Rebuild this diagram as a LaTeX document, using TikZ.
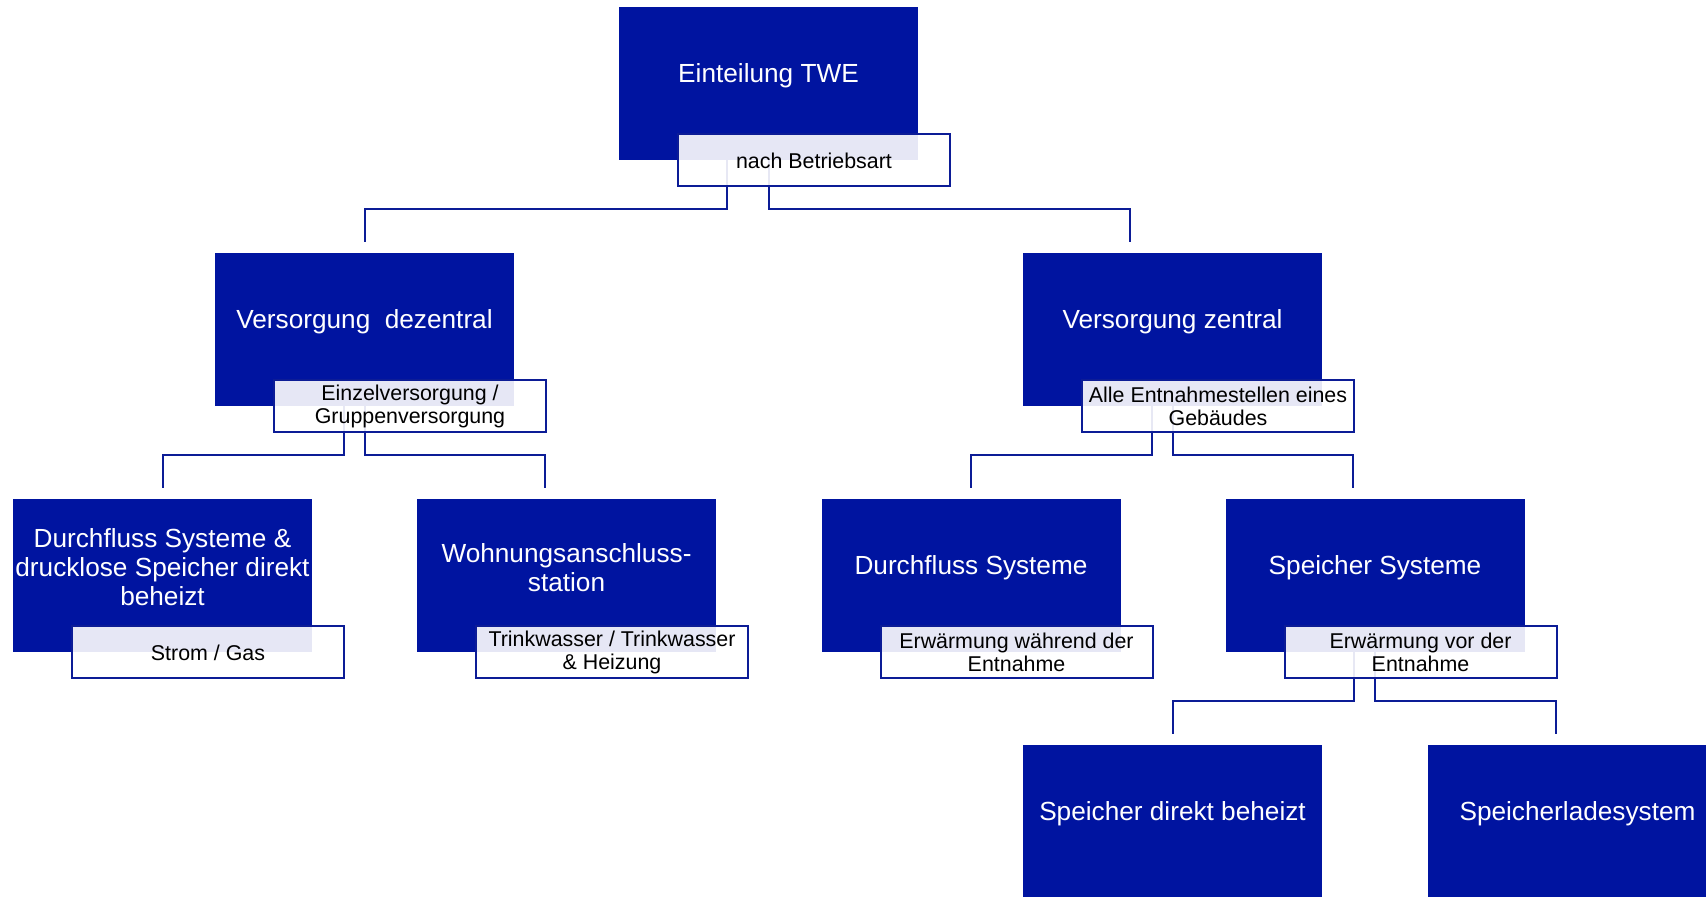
\documentclass[tikz,border=0pt]{standalone}
\usepackage{fontspec}
\setmainfont{Liberation Sans}
\usepackage{tikz}
\usetikzlibrary{positioning,calc}
\usepackage{xcolor}
\definecolor{twedark}{RGB}{0,20,160}
\definecolor{tweline}{RGB}{12,28,150}

\tikzset{
    mainbox/.style={rectangle, fill=twedark, minimum width=149.5pt, minimum height=76.5pt, inner sep=0pt},
    maintext/.style={text=white, font=\fontsize{13.1}{14.5}\selectfont, align=center, inner sep=0pt},
    subbox/.style={rectangle, draw=tweline, line width=1pt, fill=white, fill opacity=0.9, text opacity=1,
        minimum width=136pt, minimum height=26pt, inner sep=0pt, align=center,
        font=\fontsize{10.7}{11.5}\selectfont},
    conn/.style={draw=tweline, line width=1pt}
}

\begin{document}
\begin{tikzpicture}[x=0.5pt, y=-0.5pt]
\clip (0,0) rectangle (1706,896);
\useasboundingbox (0,0) rectangle (1706,896);

% Boxes
\node[mainbox] (twe) at (768.5,83.5) {};
\node[mainbox] (dez) at (364.5,329.5) {};
\node[mainbox] (zen) at (1172.5,329.5) {};
\node[mainbox] (dfs) at (162.5,575.5) {};
\node[mainbox] (was) at (566.5,575.5) {};
\node[mainbox] (dur) at (971,575.5) {};
\node[mainbox] (spe) at (1375,575.5) {};
\node[mainbox] (sdb) at (1172.5,821.5) {};
\node[mainbox] (sls) at (1577.5,821.5) {};

% Box texts
\node[maintext] (twe-t) at ($(twe.center)+(0,-8)$) {Einteilung TWE};
\node[maintext] (dez-t) at ($(dez.center)+(0,-8)$) {Versorgung\ \ dezentral};
\node[maintext] (zen-t) at ($(zen.center)+(0,-8)$) {Versorgung zentral};
\node[maintext] (dfs-t) at ($(dfs.center)+(0,-8)$) {Durchfluss Systeme \&\\drucklose Speicher direkt\\beheizt};
\node[maintext] (was-t) at ($(was.center)+(0,-8)$) {Wohnungsanschluss-\\station};
\node[maintext] (dur-t) at ($(dur.center)+(0,-8)$) {Durchfluss Systeme};
\node[maintext] (spe-t) at ($(spe.center)+(0,-8)$) {Speicher Systeme};
\node[maintext] (sdb-t) at ($(sdb.center)+(0,-8)$) {Speicher direkt beheizt};
\node[maintext] (sls-t) at ($(sls.center)+(0,-8)$) {Speicherladesystem};

% Connectors
\draw[conn] ($(twe.south)+(-42,0)$) -- ++(0,49) -| ($(dez.north)+(0,-11)$);
\draw[conn] (twe.south) -- ++(0,49) -| ($(zen.north)+(-43,-11)$);
\draw[conn] ($(dez.south)+(-21,0)$) -- ++(0,49) -| ($(dfs.north)+(0,-11)$);
\draw[conn] (dez.south) -- ++(0,49) -| ($(was.north)+(-22,-11)$);
\draw[conn] ($(zen.south)+(-21,0)$) -- ++(0,49) -| ($(dur.north)+(0,-11)$);
\draw[conn] (zen.south) -- ++(0,49) -| ($(spe.north)+(-22,-11)$);
\draw[conn] ($(spe.south)+(-21,0)$) -- ++(0,49) -| ($(sdb.north)+(0,-11)$);
\draw[conn] (spe.south) -- ++(0,49) -| ($(sls.north)+(-22,-11)$);

% Sub labels
\node[subbox] (twe-s) at ($(twe.south)+(45.5,0)$) {nach Betriebsart};
\node[subbox] (dez-s) at ($(dez.south)+(45.5,0)$) {Einzelversorgung /\\Gruppenversorgung};
\node[subbox] (zen-s) at ($(zen.south)+(45.5,0)$) {Alle Entnahmestellen eines\\Gebäudes};
\node[subbox] (dfs-s) at ($(dfs.south)+(45.5,0)$) {Strom / Gas};
\node[subbox] (was-s) at ($(was.south)+(45.5,0)$) {Trinkwasser / Trinkwasser\\\& Heizung};
\node[subbox] (dur-s) at ($(dur.south)+(45.5,0)$) {Erwärmung während der\\Entnahme};
\node[subbox] (spe-s) at ($(spe.south)+(45.5,0)$) {Erwärmung vor der\\Entnahme};

\end{tikzpicture}
\end{document}
